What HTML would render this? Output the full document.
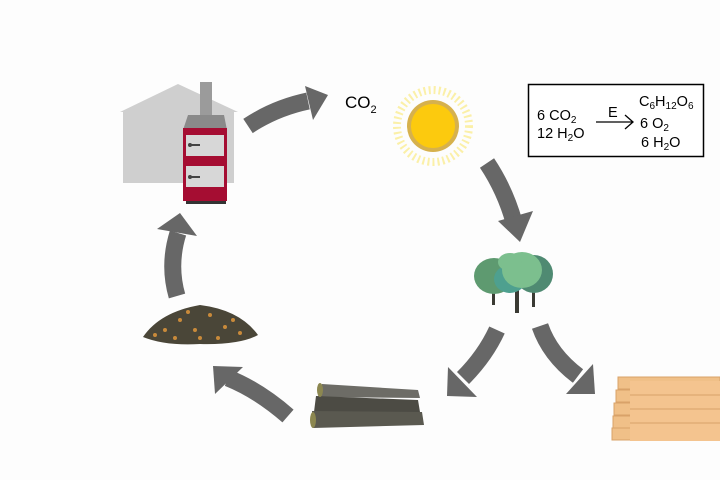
<!DOCTYPE html>
<html><head><meta charset="utf-8"><style>
html,body{margin:0;padding:0;background:#fdfdfd;}
svg{display:block;font-family:"Liberation Sans",sans-serif;}
</style></head><body>
<svg width="720" height="480" viewBox="0 0 720 480" xmlns="http://www.w3.org/2000/svg">
<rect width="720" height="480" fill="#fdfdfd"/>
<!-- house -->
<polygon points="120,112 178,84 238,112 234,112 234,183 123,183 123,112" fill="#cfcfcf"/>
<rect x="200" y="82" width="12" height="40" fill="#9b9b9b"/>
<polygon points="188,115 224,115 227,130 183,130" fill="#8a8a8a"/>
<rect x="183" y="128" width="44" height="73" fill="#a50d32"/>
<rect x="186" y="135" width="38" height="21" fill="#d7d7d7"/>
<rect x="186" y="166" width="38" height="21" fill="#d7d7d7"/>
<rect x="190" y="144" width="10" height="2" fill="#444"/><circle cx="190" cy="145" r="2" fill="#444"/>
<rect x="190" y="176" width="10" height="2" fill="#444"/><circle cx="190" cy="177" r="2" fill="#444"/>
<rect x="186" y="201" width="40" height="3" fill="#333"/>
<!-- arrows -->
<g fill="none" stroke="#676767" stroke-width="17">
<path d="M248,126 Q275,108 308,101"/>
<path d="M487,163 Q505,190 514,222"/>
<path d="M497,330 Q485,356 463,378"/>
<path d="M540,326 Q550,355 578,376"/>
<path d="M288,416 Q258,390 228,378"/>
<path d="M177,296 Q168,265 178,233"/>
</g>
<g fill="#676767">
<polygon points="305,86 328,95 313,120"/>
<polygon points="498,221 533,211 520,242"/>
<polygon points="448,367 477,397 447,396"/>
<polygon points="593,364 595,394 566,394"/>
<polygon points="213,366 243,367 215,394"/>
<polygon points="157,229 180,213 197,236"/>
</g>
<!-- CO2 -->
<text x="345" y="108" font-size="17" fill="#000">CO<tspan font-size="11" dy="5">2</tspan></text>
<!-- sun -->
<circle cx="433" cy="126" r="36" fill="none" stroke="#fbf0a8" stroke-width="8" stroke-dasharray="2 3"/>
<circle cx="433" cy="126" r="26" fill="#d6b14d"/>
<circle cx="433" cy="126" r="22" fill="#fcca0e"/>
<!-- formula box -->
<rect x="528.5" y="84.5" width="175" height="72" fill="#fff" stroke="#000" stroke-width="1.5"/>
<g font-size="14.5" fill="#000">
<text x="537" y="120">6 CO<tspan font-size="10" dy="3">2</tspan></text>
<text x="537" y="138">12 H<tspan font-size="10" dy="3">2</tspan><tspan dy="-3">O</tspan></text>
<text x="608" y="117">E</text>
<text x="639" y="106">C<tspan font-size="10" dy="3">6</tspan><tspan dy="-3">H</tspan><tspan font-size="10" dy="3">12</tspan><tspan dy="-3">O</tspan><tspan font-size="10" dy="3">6</tspan></text>
<text x="640" y="128">6 O<tspan font-size="10" dy="3">2</tspan></text>
<text x="641" y="147">6 H<tspan font-size="10" dy="3">2</tspan><tspan dy="-3">O</tspan></text>
</g>
<path d="M596,122 H632 M625,115 L633,122 L625,129" stroke="#000" stroke-width="1.3" fill="none"/>
<!-- trees -->
<g>
<rect x="492" y="283" width="3" height="22" fill="#3a3a33"/>
<rect x="515" y="283" width="4" height="30" fill="#3a3a33"/>
<rect x="532" y="283" width="3" height="24" fill="#3a3a33"/>
<ellipse cx="494" cy="276" rx="20" ry="18" fill="#5e9a70"/>
<ellipse cx="534" cy="274" rx="19" ry="19" fill="#4f8a72"/>
<ellipse cx="510" cy="279" rx="16" ry="14" fill="#4ea08f"/>
<ellipse cx="522" cy="270" rx="20" ry="18" fill="#7cbf8e"/>
<ellipse cx="510" cy="262" rx="12" ry="9" fill="#7cbf8e"/>
</g>
<!-- logs -->
<g>
<path d="M322,384 L418,390 L420,398 L318,397 Z" fill="#6d6c66"/>
<path d="M316,396 L418,400 L420,412 L314,412 Z" fill="#4c4b44"/>
<path d="M312,411 L422,412 L424,425 L313,428 Z" fill="#5a5950"/>
<ellipse cx="320" cy="390" rx="3" ry="7" fill="#8c8750"/>
<ellipse cx="313" cy="420" rx="3" ry="8" fill="#8c8750"/>
</g>
<!-- lumber -->
<g fill="#f0c088" stroke="#d9a269" stroke-width="1">
<rect x="618" y="377" width="102" height="12"/>
<rect x="616" y="390" width="104" height="12"/>
<rect x="614" y="403" width="106" height="12"/>
<rect x="613" y="416" width="107" height="12"/>
<rect x="612" y="428" width="108" height="12"/>
<rect x="630" y="381" width="90" height="60" fill="#f4c48f" stroke="none"/>
<path d="M630,395 H720 M630,409 H720 M630,423 H720" stroke="#d9a269"/>
</g>
<!-- pile -->
<path d="M143,337 Q160,312 200,305 Q240,310 258,335 Q240,345 200,344 Q165,346 143,337 Z" fill="#4a4638"/>
<g fill="#c98a3a">
<circle cx="165" cy="330" r="2"/><circle cx="180" cy="320" r="2"/><circle cx="195" cy="330" r="2"/><circle cx="210" cy="315" r="2"/><circle cx="225" cy="327" r="2"/><circle cx="240" cy="333" r="2"/><circle cx="200" cy="338" r="2"/><circle cx="175" cy="338" r="2"/><circle cx="218" cy="338" r="2"/><circle cx="188" cy="312" r="2"/><circle cx="233" cy="320" r="2"/><circle cx="155" cy="335" r="2"/>
</g>
</svg>
</body></html>
